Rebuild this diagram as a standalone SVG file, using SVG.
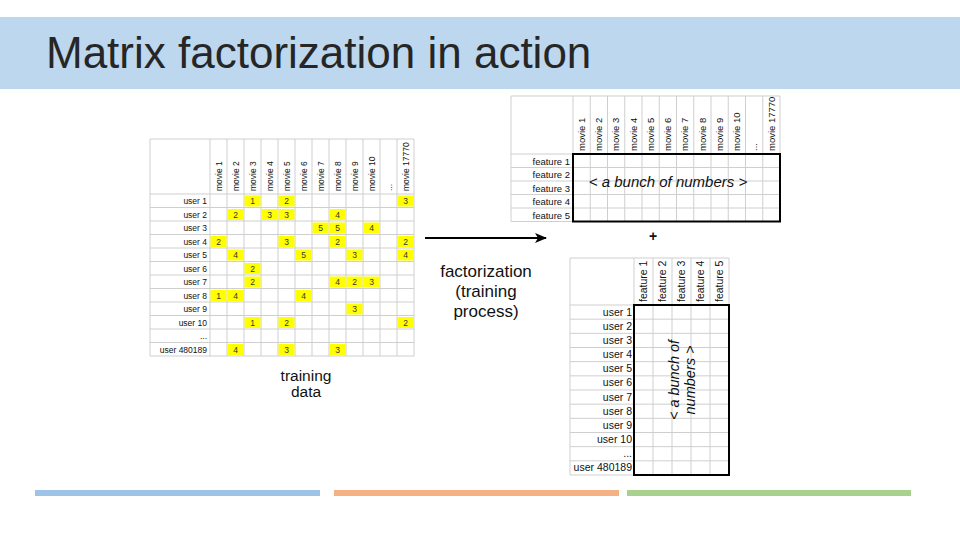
<svg xmlns="http://www.w3.org/2000/svg" width="960" height="540" viewBox="0 0 960 540">
<defs>
<style>
text{font-family:"Liberation Sans",Arial,sans-serif;fill:#111}
.grid{stroke:#cfcfcf;stroke-width:1;fill:none}
.box{stroke:#000;stroke-width:2;fill:none}
.y{fill:#ffff00}
.v{font-size:8.5px;text-anchor:middle;fill:#333}
.lbl{font-size:8.5px;text-anchor:end}
.hdr{font-size:8.5px}
.lbl2{font-size:9.5px;text-anchor:end}
.hdr2{font-size:9.5px}
.lbl3{font-size:10.5px;text-anchor:end}
.hdr3{font-size:10.5px}
.big{font-size:17px;text-anchor:middle;fill:#111}
.it{font-size:15px;font-style:italic;text-anchor:middle;fill:#111}
</style>
<marker id="ah" viewBox="0 0 12 10" refX="11" refY="5" markerWidth="12" markerHeight="10" markerUnits="userSpaceOnUse" orient="auto">
<path d="M0,0 L12,5 L0,10 L3,5 Z" fill="#000"/>
</marker>
</defs>
<rect width="960" height="540" fill="#fff"/>
<g id="title">
<rect x="0" y="17" width="960" height="72" fill="#bdd7ee"/>
<text x="46" y="68" style="font-size:44px;fill:#262626">Matrix factorization in action</text>
</g>

<g id="training-matrix">
<path class="grid" d="M150,139H414V356H150Z M210,139V356 M227,139V356 M244,139V356 M261,139V356 M278,139V356 M295,139V356 M312,139V356 M329,139V356 M346,139V356 M363,139V356 M380,139V356 M397,139V356 M150,194H414 M150,207.5H414 M150,221H414 M150,234.5H414 M150,248H414 M150,261.5H414 M150,275H414 M150,288.5H414 M150,302H414 M150,315.5H414 M150,329H414 M150,342.5H414"/>
<g class="y">
<rect x="244.5" y="195.5" width="16" height="11"/><rect x="278.5" y="195.5" width="16" height="11"/><rect x="397.5" y="195.5" width="16" height="11"/>
<rect x="227.5" y="209" width="16" height="11"/><rect x="261.5" y="209" width="16" height="11"/><rect x="278.5" y="209" width="16" height="11"/><rect x="329.5" y="209" width="16" height="11"/>
<rect x="312.5" y="222.5" width="16" height="11"/><rect x="329.5" y="222.5" width="16" height="11"/><rect x="363.5" y="222.5" width="16" height="11"/>
<rect x="210.5" y="236" width="16" height="11"/><rect x="278.5" y="236" width="16" height="11"/><rect x="329.5" y="236" width="16" height="11"/><rect x="397.5" y="236" width="16" height="11"/>
<rect x="227.5" y="249.5" width="16" height="11"/><rect x="295.5" y="249.5" width="16" height="11"/><rect x="346.5" y="249.5" width="16" height="11"/><rect x="397.5" y="249.5" width="16" height="11"/>
<rect x="244.5" y="263" width="16" height="11"/>
<rect x="244.5" y="276.5" width="16" height="11"/><rect x="329.5" y="276.5" width="16" height="11"/><rect x="346.5" y="276.5" width="16" height="11"/><rect x="363.5" y="276.5" width="16" height="11"/>
<rect x="210.5" y="290" width="16" height="11"/><rect x="227.5" y="290" width="16" height="11"/><rect x="295.5" y="290" width="16" height="11"/>
<rect x="346.5" y="303.5" width="16" height="11"/>
<rect x="244.5" y="317" width="16" height="11"/><rect x="278.5" y="317" width="16" height="11"/><rect x="397.5" y="317" width="16" height="11"/>
<rect x="227.5" y="344" width="16" height="11"/><rect x="278.5" y="344" width="16" height="11"/><rect x="329.5" y="344" width="16" height="11"/>
</g>
<g>
<text class="v" x="252.5" y="204">1</text><text class="v" x="286.5" y="204">2</text><text class="v" x="405.5" y="204">3</text>
<text class="v" x="235.5" y="217.5">2</text><text class="v" x="269.5" y="217.5">3</text><text class="v" x="286.5" y="217.5">3</text><text class="v" x="337.5" y="217.5">4</text>
<text class="v" x="320.5" y="231">5</text><text class="v" x="337.5" y="231">5</text><text class="v" x="371.5" y="231">4</text>
<text class="v" x="218.5" y="244.5">2</text><text class="v" x="286.5" y="244.5">3</text><text class="v" x="337.5" y="244.5">2</text><text class="v" x="405.5" y="244.5">2</text>
<text class="v" x="235.5" y="258">4</text><text class="v" x="303.5" y="258">5</text><text class="v" x="354.5" y="258">3</text><text class="v" x="405.5" y="258">4</text>
<text class="v" x="252.5" y="271.5">2</text>
<text class="v" x="252.5" y="285">2</text><text class="v" x="337.5" y="285">4</text><text class="v" x="354.5" y="285">2</text><text class="v" x="371.5" y="285">3</text>
<text class="v" x="218.5" y="298.5">1</text><text class="v" x="235.5" y="298.5">4</text><text class="v" x="303.5" y="298.5">4</text>
<text class="v" x="354.5" y="312">3</text>
<text class="v" x="252.5" y="325.5">1</text><text class="v" x="286.5" y="325.5">2</text><text class="v" x="405.5" y="325.5">2</text>
<text class="v" x="235.5" y="352.5">4</text><text class="v" x="286.5" y="352.5">3</text><text class="v" x="337.5" y="352.5">3</text>
</g>
<g>
<text class="lbl" x="207" y="204">user 1</text>
<text class="lbl" x="207" y="217.5">user 2</text>
<text class="lbl" x="207" y="231">user 3</text>
<text class="lbl" x="207" y="244.5">user 4</text>
<text class="lbl" x="207" y="258">user 5</text>
<text class="lbl" x="207" y="271.5">user 6</text>
<text class="lbl" x="207" y="285">user 7</text>
<text class="lbl" x="207" y="298.5">user 8</text>
<text class="lbl" x="207" y="312">user 9</text>
<text class="lbl" x="207" y="325.5">user 10</text>
<text class="lbl" x="207" y="339">...</text>
<text class="lbl" x="207" y="352.5">user 480189</text>
</g>
<g>
<text class="hdr" transform="translate(221.5,191) rotate(-90)">movie 1</text>
<text class="hdr" transform="translate(238.5,191) rotate(-90)">movie 2</text>
<text class="hdr" transform="translate(255.5,191) rotate(-90)">movie 3</text>
<text class="hdr" transform="translate(272.5,191) rotate(-90)">movie 4</text>
<text class="hdr" transform="translate(289.5,191) rotate(-90)">movie 5</text>
<text class="hdr" transform="translate(306.5,191) rotate(-90)">movie 6</text>
<text class="hdr" transform="translate(323.5,191) rotate(-90)">movie 7</text>
<text class="hdr" transform="translate(340.5,191) rotate(-90)">movie 8</text>
<text class="hdr" transform="translate(357.5,191) rotate(-90)">movie 9</text>
<text class="hdr" transform="translate(374.5,191) rotate(-90)">movie 10</text>
<text class="hdr" transform="translate(391.5,191) rotate(-90)">...</text>
<text class="hdr" transform="translate(408.5,191) rotate(-90)">movie 17770</text>
</g>
<text x="306" y="381" style="font-size:15.5px;text-anchor:middle;fill:#111">training</text>
<text x="306" y="397" style="font-size:15.5px;text-anchor:middle;fill:#111">data</text>
</g>

<g id="movie-factors">
<path class="grid" d="M511,96H780V221.5H511Z M573,96V221.5 M590.25,96V221.5 M607.5,96V221.5 M624.75,96V221.5 M642,96V221.5 M659.25,96V221.5 M676.5,96V221.5 M693.75,96V221.5 M711,96V221.5 M728.25,96V221.5 M745.5,96V221.5 M762.75,96V221.5 M511,154H780 M511,167.5H780 M511,181H780 M511,194.5H780 M511,208H780"/>
<text class="lbl2" x="570" y="164.5">feature 1</text>
<text class="lbl2" x="570" y="178">feature 2</text>
<text class="lbl2" x="570" y="191.5">feature 3</text>
<text class="lbl2" x="570" y="205">feature 4</text>
<text class="lbl2" x="570" y="218.5">feature 5</text>
<text class="hdr2" transform="translate(585,151) rotate(-90)">movie 1</text>
<text class="hdr2" transform="translate(602.2,151) rotate(-90)">movie 2</text>
<text class="hdr2" transform="translate(619.4,151) rotate(-90)">movie 3</text>
<text class="hdr2" transform="translate(636.7,151) rotate(-90)">movie 4</text>
<text class="hdr2" transform="translate(653.9,151) rotate(-90)">movie 5</text>
<text class="hdr2" transform="translate(671.2,151) rotate(-90)">movie 6</text>
<text class="hdr2" transform="translate(688.4,151) rotate(-90)">movie 7</text>
<text class="hdr2" transform="translate(705.7,151) rotate(-90)">movie 8</text>
<text class="hdr2" transform="translate(722.9,151) rotate(-90)">movie 9</text>
<text class="hdr2" transform="translate(740.2,151) rotate(-90)">movie 10</text>
<text class="hdr2" transform="translate(757.4,151) rotate(-90)">...</text>
<text class="hdr2" transform="translate(774.7,151) rotate(-90)">movie 17770</text>
<rect class="box" x="573" y="154" width="207" height="67.5"/>
<text class="it" x="668" y="187">&lt; a bunch of numbers &gt;</text>
</g>

<text x="653" y="241" style="font-size:14px;font-weight:bold;text-anchor:middle;fill:#111">+</text>

<g id="user-factors">
<path class="grid" d="M570,258H729V475H570Z M634,258V475 M653,258V475 M672,258V475 M691,258V475 M710,258V475 M570,305H729 M570,319.17H729 M570,333.33H729 M570,347.5H729 M570,361.67H729 M570,375.83H729 M570,390H729 M570,404.17H729 M570,418.33H729 M570,432.5H729 M570,446.67H729 M570,460.83H729"/>
<text class="lbl3" x="632" y="315.6">user 1</text>
<text class="lbl3" x="632" y="329.8">user 2</text>
<text class="lbl3" x="632" y="343.9">user 3</text>
<text class="lbl3" x="632" y="358.1">user 4</text>
<text class="lbl3" x="632" y="372.3">user 5</text>
<text class="lbl3" x="632" y="386.4">user 6</text>
<text class="lbl3" x="632" y="400.6">user 7</text>
<text class="lbl3" x="632" y="414.8">user 8</text>
<text class="lbl3" x="632" y="428.9">user 9</text>
<text class="lbl3" x="632" y="443.1">user 10</text>
<text class="lbl3" x="632" y="457.3">...</text>
<text class="lbl3" x="632" y="471.4">user 480189</text>
<text class="hdr3" transform="translate(647,302) rotate(-90)">feature 1</text>
<text class="hdr3" transform="translate(666,302) rotate(-90)">feature 2</text>
<text class="hdr3" transform="translate(685,302) rotate(-90)">feature 3</text>
<text class="hdr3" transform="translate(704,302) rotate(-90)">feature 4</text>
<text class="hdr3" transform="translate(723,302) rotate(-90)">feature 5</text>
<rect class="box" x="634" y="305" width="95" height="170"/>
<text class="it" style="font-size:14.5px" transform="translate(678.5,380) rotate(-90)">&lt; a bunch of</text>
<text class="it" style="font-size:14.5px" transform="translate(695,380) rotate(-90)">numbers &gt;</text>
</g>

<g id="connectors">
<line x1="425" y1="238" x2="546" y2="238" stroke="#000" stroke-width="2" marker-end="url(#ah)"/>
</g>
<g id="factorization-label">
<text class="big" x="486" y="277">factorization</text>
<text class="big" x="486" y="297">(training</text>
<text class="big" x="486" y="317">process)</text>
</g>

<g id="footer">
<rect x="35" y="490" width="285" height="6" fill="#9dc3e6"/>
<rect x="334" y="490" width="285" height="6" fill="#f4b183"/>
<rect x="627" y="490" width="284" height="6" fill="#a9d18e"/>
</g>
</svg>
